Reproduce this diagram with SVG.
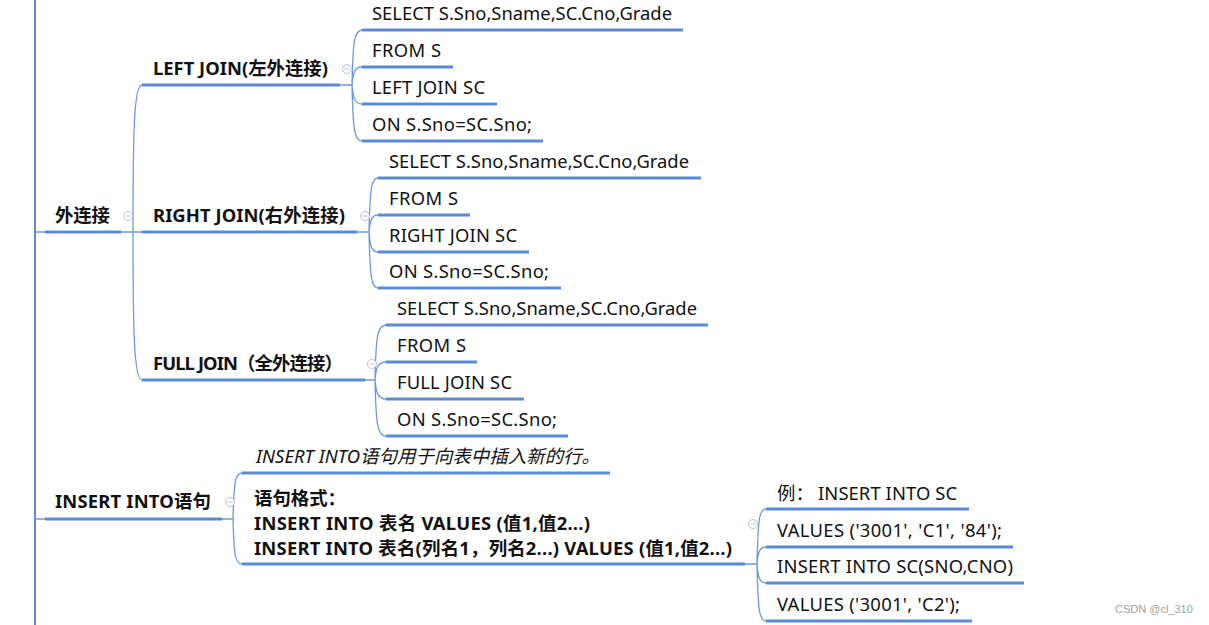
<svg xmlns="http://www.w3.org/2000/svg" width="1209" height="625" viewBox="0 0 1209 625">
<style>
text{font-family:"Noto Sans","Noto Sans CJK SC",sans-serif;font-size:18.4px;fill:#111}
.b{font-weight:bold;font-size:18.4px}
.i{font-style:italic}
.ul{stroke:#5b8bd6;stroke-width:3;fill:none}
.cn{stroke:#6d98de;stroke-width:1.3;fill:none}
.tog circle{fill:#fff;stroke:#b4c3de;stroke-width:1}
.tog line{stroke:#b4c3de;stroke-width:1}
.wm{font-family:"Liberation Sans",Arial,sans-serif;font-size:11px;fill:#a0a0a0}
</style>
<defs>
<g id="tg" class="tog"><circle r="4.5"/><line x1="-2.5" y1="0" x2="2.5" y2="0"/></g>
</defs>
<rect width="1209" height="625" fill="#fff"/>
<g id="connectors">
<line x1="35" y1="0" x2="35" y2="625" stroke="#5b8bd6" stroke-width="2"/>
<path class="cn" d="M35,232H45M35,519H45"/>
<path class="cn" d="M121,232H142M133,232C133,130 134,85 142,85M133,232C133,330 134,380 142,380"/>
<path class="cn" d="M340,85H352M352,85C353,42 354,30 362,30M352,85C353,74 354,67 362,67M352,85C353,96 354,104 362,104M352,85C353,128 354,141 362,141"/>
<path class="cn" d="M357,232H369M369,232C370,190 371,178 378,178M369,232C370,222 371,215 378,215M369,232C370,244 371,252 378,252M369,232C370,275 371,288 378,288"/>
<path class="cn" d="M365,380H375M375,380C376,337 377,325 386,325M375,380C376,369 377,362 386,362M375,380C376,391 377,399 386,399M375,380C376,423 377,436 386,436"/>
<path class="cn" d="M222,519H233M233,519C234,482 235,473 242,473M233,519C234,555 235,564 242,564"/>
<path class="cn" d="M745,564H757M757,564C758,520 759,509 766,509M757,564C758,553 759,547 766,547M757,564C758,576 759,583 766,583M757,564C758,609 759,621 766,621"/>
</g>
<g id="n-outer">
<text class="b" x="55" y="222" textLength="55">外连接</text>
<line class="ul" x1="45" y1="232" x2="121" y2="232"/>
<use href="#tg" x="128" y="216"/>
</g>
<g id="n-left">
<text class="b" x="153" y="75" textLength="175">LEFT JOIN(左外连接)</text>
<line class="ul" x1="142" y1="85" x2="340" y2="85"/>
<use href="#tg" x="347" y="69"/>
</g>
<g id="n-left-1"><text x="372" y="20" textLength="300">SELECT S.Sno,Sname,SC.Cno,Grade</text><line class="ul" x1="362" y1="30" x2="683" y2="30"/></g>
<g id="n-left-2"><text x="372" y="57" textLength="69">FROM S</text><line class="ul" x1="362" y1="67" x2="453" y2="67"/></g>
<g id="n-left-3"><text x="372" y="94" textLength="113">LEFT JOIN SC</text><line class="ul" x1="362" y1="104" x2="497" y2="104"/></g>
<g id="n-left-4"><text x="372" y="131" textLength="160">ON S.Sno=SC.Sno;</text><line class="ul" x1="362" y1="141" x2="543" y2="141"/></g>
<g id="n-right">
<text class="b" x="153" y="222" textLength="192">RIGHT JOIN(右外连接)</text>
<line class="ul" x1="142" y1="232" x2="357" y2="232"/>
<use href="#tg" x="365" y="216"/>
</g>
<g id="n-right-1"><text x="389" y="168" textLength="300">SELECT S.Sno,Sname,SC.Cno,Grade</text><line class="ul" x1="378" y1="178" x2="701" y2="178"/></g>
<g id="n-right-2"><text x="389" y="205" textLength="69">FROM S</text><line class="ul" x1="378" y1="215" x2="470" y2="215"/></g>
<g id="n-right-3"><text x="389" y="242" textLength="128">RIGHT JOIN SC</text><line class="ul" x1="378" y1="252" x2="529" y2="252"/></g>
<g id="n-right-4"><text x="389" y="278" textLength="160">ON S.Sno=SC.Sno;</text><line class="ul" x1="378" y1="288" x2="561" y2="288"/></g>
<g id="n-full">
<text class="b" x="153" y="370" textLength="190">FULL JOIN（全外连接）</text>
<line class="ul" x1="142" y1="380" x2="365" y2="380"/>
<use href="#tg" x="372" y="364"/>
</g>
<g id="n-full-1"><text x="397" y="315" textLength="300">SELECT S.Sno,Sname,SC.Cno,Grade</text><line class="ul" x1="386" y1="325" x2="708" y2="325"/></g>
<g id="n-full-2"><text x="397" y="352" textLength="69">FROM S</text><line class="ul" x1="386" y1="362" x2="477" y2="362"/></g>
<g id="n-full-3"><text x="397" y="389" textLength="115">FULL JOIN SC</text><line class="ul" x1="386" y1="399" x2="524" y2="399"/></g>
<g id="n-full-4"><text x="397" y="426" textLength="160">ON S.Sno=SC.Sno;</text><line class="ul" x1="386" y1="436" x2="568" y2="436"/></g>
<g id="n-insert">
<text class="b" x="55" y="508" textLength="156">INSERT INTO语句</text>
<line class="ul" x1="45" y1="519" x2="222" y2="519"/>
<use href="#tg" x="230" y="502"/>
</g>
<g id="n-insert-desc"><text class="i" x="256" y="463" textLength="344">INSERT INTO语句用于向表中插入新的行。</text><line class="ul" x1="242" y1="473" x2="610" y2="473"/></g>
<g id="n-insert-fmt">
<text class="b" x="254" y="505">语句格式：</text>
<text class="b" x="254" y="530" textLength="336">INSERT INTO 表名 VALUES (值1,值2...)</text>
<text class="b" x="254" y="555" textLength="478">INSERT INTO 表名(列名1，列名2...) VALUES (值1,值2...)</text>
<line class="ul" x1="242" y1="564" x2="745" y2="564"/>
<use href="#tg" x="753" y="524"/>
</g>
<g id="n-ex-1"><text x="777" y="500">例：<tspan x="818" textLength="139">INSERT INTO SC</tspan></text><line class="ul" x1="766" y1="509" x2="969" y2="509"/></g>
<g id="n-ex-2"><text x="777" y="537" textLength="225">VALUES ('3001', 'C1', '84');</text><line class="ul" x1="766" y1="547" x2="1013" y2="547"/></g>
<g id="n-ex-3"><text x="777" y="573" textLength="236">INSERT INTO SC(SNO,CNO)</text><line class="ul" x1="766" y1="583" x2="1024" y2="583"/></g>
<g id="n-ex-4"><text x="777" y="611" textLength="183">VALUES ('3001', 'C2');</text><line class="ul" x1="766" y1="621" x2="972" y2="621"/></g>
<text class="wm" x="1115" y="613">CSDN @cl_310</text>
</svg>
